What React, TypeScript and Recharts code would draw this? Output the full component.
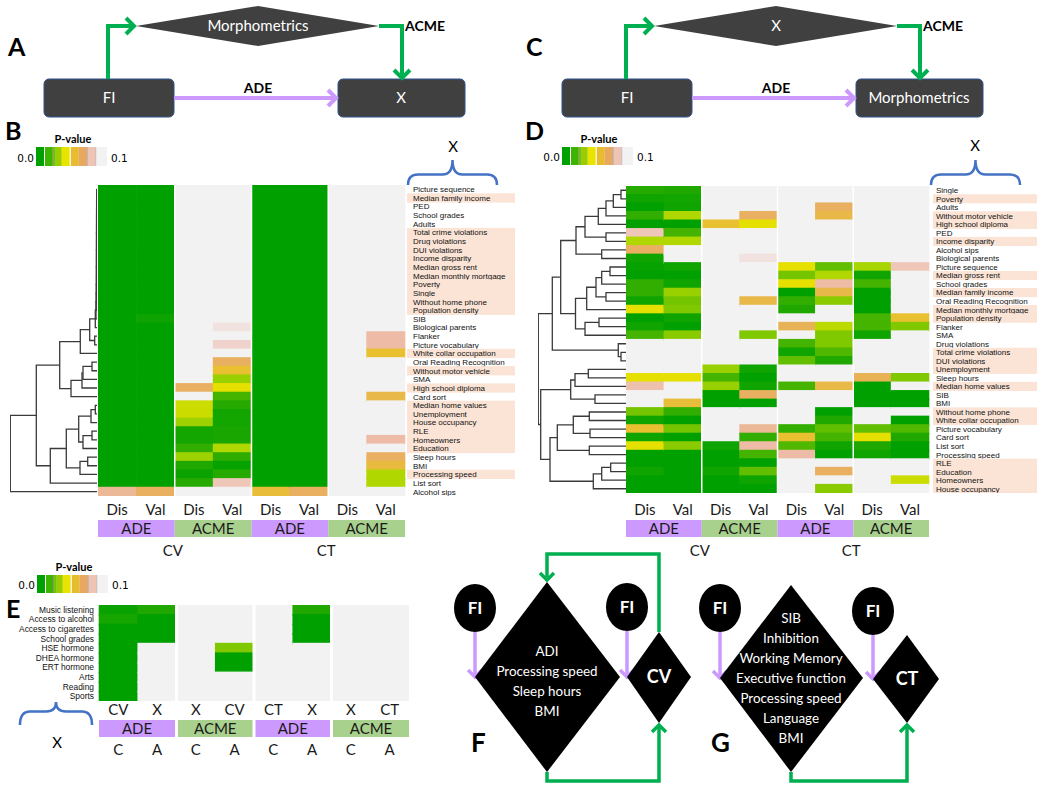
import React from 'react';
import { BarChart, Bar, Cell, XAxis, YAxis, ReferenceLine, ScatterChart, Scatter } from 'recharts';

const FONT = "Lato, 'Open Sans', sans-serif";
const LABEL_FONT = "'Liberation Sans', Arial, sans-serif";
const N = 1; // not significant (p >= 0.1)

// ---------------- Panel B ----------------
const B_ROWS = ['Picture sequence', 'Median family income', 'PED', 'School grades', 'Adults', 'Total crime violations', 'Drug violations', 'DUI violations', 'Income disparity', 'Median gross rent', 'Median monthly mortgage', 'Poverty', 'Single', 'Without home phone', 'Population density', 'SIB', 'Biological parents', 'Flanker', 'Picture vocabulary', 'White collar occupation', 'Oral Reading Recognition', 'Without motor vehicle', 'SMA', 'High school diploma', 'Card sort', 'Median home values', 'Unemployment', 'House occupancy', 'RLE', 'Homeowners', 'Education', 'Sleep hours', 'BMI', 'Processing speed', 'List sort', 'Alcohol sips'];
const B_HIGHLIGHT = ['Median family income', 'Total crime violations', 'Drug violations', 'DUI violations', 'Income disparity', 'Median gross rent', 'Median monthly mortgage', 'Poverty', 'Single', 'Without home phone', 'Population density', 'White collar occupation', 'Without motor vehicle', 'High school diploma', 'Median home values', 'Unemployment', 'House occupancy', 'RLE', 'Homeowners', 'Education', 'Processing speed'];
const B_ADE_CV_DIS = [0, 0, 0, 0, 0, 0, 0, 0, 0, 0, 0, 0, 0, 0, 0, 0, 0, 0, 0, 0, 0, 0, 0, 0, 0, 0, 0, 0, 0, 0, 0, 0, 0, 0, 0, 0.078];
const B_ADE_CV_VAL = [0, 0, 0, 0, 0, 0, 0, 0, 0, 0, 0, 0, 0, 0, 0, 0.004, 0, 0, 0, 0, 0, 0, 0, 0, 0, 0, 0, 0, 0, 0, 0, 0, 0, 0, 0, 0.07];
const B_ACME_CV_DIS = [N, N, N, N, N, N, N, N, N, N, N, N, N, N, N, N, N, N, N, N, N, N, N, 0.07, N, 0.045, 0.045, 0.036, 0.006, 0.006, 0.015, 0.036, 0.01, 0.003, 0.012, N];
const B_ACME_CV_VAL = [N, N, N, N, N, N, N, N, N, N, N, N, N, N, N, N, 0.095, N, 0.09, N, 0.07, 0.06, 0.035, 0.05, 0.02, 0.012, 0.006, 0.006, 0.008, 0.008, 0.04, 0.014, 0.002, 0.012, 0.085, N];
const B_ADE_CT_DIS = [0, 0, 0, 0, 0, 0, 0, 0, 0, 0, 0, 0, 0, 0, 0, 0, 0, 0, 0, 0, 0, 0, 0, 0, 0, 0, 0, 0, 0, 0, 0, 0, 0, 0, 0, 0.062];
const B_ADE_CT_VAL = [0, 0, 0, 0, 0, 0, 0, 0, 0, 0, 0, 0, 0, 0, 0, 0, 0, 0, 0, 0, 0, 0, 0, 0, 0, 0, 0, 0, 0, 0, 0, 0, 0, 0, 0, 0.07];
const B_ACME_CT_DIS = [N, N, N, N, N, N, N, N, N, N, N, N, N, N, N, N, N, N, N, N, N, N, N, N, N, N, N, N, N, N, N, N, N, N, N, N];
const B_ACME_CT_VAL = [N, N, N, N, N, N, N, N, N, N, N, N, N, N, N, N, N, 0.08, 0.08, 0.06, N, N, N, N, 0.065, N, N, N, N, 0.08, N, 0.07, 0.063, 0.04, 0.04, N];
// linkage: [nodeA, nodeB, height]; leaves 0..35, merges 36+
const B_TREE = [[0, 1, 0.3], [36, 2, 0.35], [37, 3, 0.4], [38, 4, 0.4], [39, 5, 0.45], [40, 6, 0.45], [41, 7, 0.5], [42, 8, 0.5], [43, 9, 0.55], [44, 10, 0.55], [45, 11, 0.6], [46, 12, 0.6], [47, 13, 0.7], [48, 14, 0.8], [49, 15, 1.0], [50, 16, 1.7], [17, 18, 2.3], [51, 52, 7.3], [53, 19, 16.7], [20, 21, 5], [55, 22, 14], [56, 23, 15], [57, 24, 26], [54, 58, 37.3], [25, 26, 1.7], [60, 27, 6], [28, 29, 5], [62, 30, 14], [61, 63, 18.3], [31, 32, 9.3], [65, 33, 17], [64, 66, 30.7], [67, 34, 46.7], [59, 68, 60.7], [69, 35, 86.7]];

// ---------------- Panel D ----------------
const D_ROWS = ['Single', 'Poverty', 'Adults', 'Without motor vehicle', 'High school diploma', 'PED', 'Income disparity', 'Alcohol sips', 'Biological parents', 'Picture sequence', 'Median gross rent', 'School grades', 'Median family income', 'Oral Reading Recognition', 'Median monthly mortgage', 'Population density', 'Flanker', 'SMA', 'Drug violations', 'Total crime violations', 'DUI violations', 'Unemployment', 'Sleep hours', 'Median home values', 'SIB', 'BMI', 'Without home phone', 'White collar occupation', 'Picture vocabulary', 'Card sort', 'List sort', 'Processing speed', 'RLE', 'Education', 'Homeowners', 'House occupancy'];
const D_HIGHLIGHT = ['Poverty', 'Without motor vehicle', 'High school diploma', 'Income disparity', 'Median gross rent', 'Median family income', 'Median monthly mortgage', 'Population density', 'Total crime violations', 'DUI violations', 'Unemployment', 'Median home values', 'Without home phone', 'White collar occupation', 'RLE', 'Education', 'Homeowners', 'House occupancy'];
const D_ADE_CV_DIS = [0.012, 0.005, 0, 0.015, 0, 0.085, 0.04, 0.07, 0.005, 0.002, 0, 0.015, 0.015, 0.005, 0.05, 0, 0.005, 0.02, N, N, N, N, 0.05, 0.082, N, N, 0.028, 0.005, 0.06, 0.005, 0.05, 0, 0, 0.005, 0, 0];
const D_ADE_CV_VAL = [0.01, 0.006, 0.005, 0.04, 0, 0.02, 0.04, N, N, 0.005, 0, 0.005, 0.035, 0.028, 0.03, 0.005, 0, 0.032, N, N, N, N, 0.05, N, N, 0.062, 0.015, 0, 0.028, 0, 0.032, 0, 0, 0, 0, 0];
const D_ACME_CV_DIS = [N, N, N, N, 0.06, N, N, N, N, N, N, N, N, N, N, N, N, N, N, N, N, 0.035, 0.02, 0.035, 0, 0, N, N, N, N, 0.005, 0, 0, 0.005, 0, 0];
const D_ACME_CV_VAL = [N, N, N, 0.07, 0.05, N, N, N, 0.095, N, N, N, N, 0.065, N, N, N, 0.03, N, N, N, 0.005, 0, 0.005, 0.07, 0, N, N, 0.078, 0.015, 0.08, 0.02, 0, 0.025, 0.005, 0];
const D_ADE_CT_DIS = [N, N, N, N, N, N, N, N, N, 0.05, 0.028, 0.05, 0, 0.015, 0.01, N, 0.068, N, 0.02, 0.005, 0.025, N, N, 0.02, N, N, N, N, 0.015, 0.06, 0.022, 0.08, N, N, N, N];
const D_ADE_CT_VAL = [N, N, 0.07, 0.065, N, N, N, N, N, 0.025, 0.04, 0.08, 0.065, 0.032, N, N, 0.042, 0.03, 0.03, 0.022, 0.01, N, N, 0.065, N, N, 0, 0.01, 0.025, 0.02, 0.005, 0, N, 0.07, N, 0.032];
const D_ACME_CT_DIS = [N, N, N, N, N, N, N, N, N, 0.038, 0.005, 0.02, 0, 0, 0, 0.02, 0.02, 0.005, N, N, N, N, 0.068, 0, 0, 0, N, N, 0.025, 0.05, 0.01, 0.005, N, N, N, N];
const D_ACME_CT_VAL = [N, N, N, N, N, N, N, N, N, 0.085, N, N, N, N, N, 0.06, 0.03, N, N, N, N, N, 0.03, N, 0, 0, N, 0, 0.022, 0.01, 0, 0, N, N, 0.045, N];
const D_TREE = [[0, 1, 5], [36, 2, 12.7], [37, 3, 20], [38, 4, 27.7], [5, 6, 20], [39, 40, 41], [7, 8, 24.3], [41, 42, 50], [9, 10, 16], [44, 11, 24.3], [12, 13, 20], [45, 46, 30], [47, 14, 39.3], [15, 16, 27], [49, 17, 41], [48, 50, 50.5], [43, 51, 65.3], [19, 20, 5], [18, 53, 7.7], [52, 54, 73.7], [21, 22, 37.7], [56, 23, 51], [24, 25, 31], [57, 58, 55.3], [26, 27, 36.7], [28, 29, 36], [60, 61, 52.7], [30, 31, 36.7], [62, 63, 68.7], [32, 33, 15.3], [65, 34, 24.3], [66, 35, 32.7], [64, 67, 76], [59, 68, 85.3], [55, 69, 87.7]];

// ---------------- Panel E ----------------
const E_ROWS = ['Music listening', 'Access to alcohol', 'Access to cigarettes', 'School grades', 'HSE hormone', 'DHEA hormone', 'ERT hormone', 'Arts', 'Reading', 'Sports'];
const E_ADE_C_CV = [0.003, 0.007, 0, 0, 0, 0, 0, 0, 0, 0];
const E_ADE_C_X = [0.01, 0, 0, 0, N, N, N, N, N, N];
const E_ACME_C_X = [N, N, N, N, N, N, N, N, N, N];
const E_ACME_C_CV = [N, N, N, N, 0.03, 0, 0, N, N, N];
const E_ADE_A_CT = [N, N, N, N, N, N, N, N, N, N];
const E_ADE_A_X = [0.01, 0, 0, 0, N, N, N, N, N, N];
const E_ACME_A_X = [N, N, N, N, N, N, N, N, N, N];
const E_ACME_A_CT = [N, N, N, N, N, N, N, N, N, N];

// tick labels
const BD_COL_LABELS = ['Dis', 'Val', 'Dis', 'Val', 'Dis', 'Val', 'Dis', 'Val'];
const GROUP_LABELS = ['ADE', 'ACME', 'ADE', 'ACME'];
const BD_SUPER = ['CV', 'CT'];
const E_COL_LABELS = ['CV', 'X', 'X', 'CV', 'CT', 'X', 'X', 'CT'];
const E_SUB_LABELS = ['C', 'A', 'C', 'A', 'C', 'A', 'C', 'A'];
const F_TEXT = ['ADI', 'Processing speed', 'Sleep hours', 'BMI'];
const G_TEXT = ['SIB', 'Inhibition', 'Working Memory', 'Executive function', 'Processing speed', 'Language', 'BMI'];

const P_STOPS: [number, string][] = [[0, '#00A000'], [0.01, '#20A800'], [0.02, '#44B400'], [0.03, '#80C800'], [0.04, '#B0D800'], [0.05, '#E6E000'], [0.06, '#E8C030'], [0.07, '#E8B060'], [0.08, '#EDBBA6'], [0.09, '#F0D2CC'], [0.1, '#F2F2F2']];
const LEGEND_SEGS: [string, number][] = [['#00A000', 8], ['#FFFFFF', 1], ['#3CB400', 7], ['#777777', 0.8], ['#70C400', 3], ['#9ACC00', 6], ['#E8E400', 8], ['#FFFFFF', 1], ['#E8BC30', 8], ['#E8A860', 8], ['#777777', 0.8], ['#F0C4B4', 8], ['#999999', 0.8], ['#F2F2F2', 10.6]];

const GREEN = '#00B050';
const PURPLE = '#CC99FF';
const DARK = '#404040';
const ADE_FILL = '#CC99FF';
const ACME_FILL = '#A9D18E';

function hex(c: string) { return [1, 3, 5].map(i => parseInt(c.slice(i, i + 2), 16)); }
function pColor(p: number) {
  if (p >= 0.1) return '#F2F2F2';
  for (let i = 1; i < P_STOPS.length; i++) {
    const [p1, c1] = P_STOPS[i];
    const [p0, c0] = P_STOPS[i - 1];
    if (p <= p1) {
      const t = (p - p0) / (p1 - p0);
      const a = hex(c0), b = hex(c1);
      const m = a.map((v, k) => Math.round(v + (b[k] - v) * t));
      return `rgb(${m[0]},${m[1]},${m[2]})`;
    }
  }
  return '#F2F2F2';
}

// cell shape: slightly overdrawn so that adjacent cells meet without seams
const CellShape = (p: any) => (
  <rect x={p.x - 0.3} y={p.y - 0.6} width={p.width + 0.6} height={p.height + 1.2} fill={p.fill} />
);

function Heatmap(props: any) {
  const { rows, cols, highlight, left, top, plotW, height, labelW, side, tickMargin, fontSize, sepW, hlOff, hlW } = props;
  const data = rows.map((name: string) => {
    const o: any = { name };
    cols.forEach((_: any, c: number) => { o['c' + c] = 1; });
    return o;
  });
  const rowH = height / rows.length;
  const renderTick = (tp: any) => {
    const { x, y, payload } = tp;
    const hl = highlight && highlight.includes(payload.value);
    return (
      <g>
        {hl && <rect x={x - hlOff} y={y - rowH / 2 - 0.3} width={hlW} height={rowH + 0.6} fill="#FBE4D5" />}
        <text x={x} y={y} dy={fontSize * 0.36} fontSize={fontSize} fontFamily={LABEL_FONT} fill="#111" textAnchor={side === 'right' ? 'start' : 'end'}>{payload.value}</text>
      </g>
    );
  };
  const chartLeft = side === 'right' ? left : left - labelW;
  return (
    <div style={{ position: 'absolute', left: chartLeft, top }}>
      <BarChart width={plotW + labelW} height={height} data={data} layout="vertical" margin={{ top: 0, right: 0, bottom: 0, left: 0 }} barCategoryGap={0} barGap={0}>
        <XAxis type="number" domain={[0, cols.length]} hide />
        <YAxis type="category" dataKey="name" orientation={side} width={labelW} tickLine={false} axisLine={false} interval={0} tickSize={0} tickMargin={tickMargin} tick={renderTick} />
        {cols.map((col: number[], ci: number) => (
          <Bar key={ci} dataKey={'c' + ci} stackId="s" shape={CellShape} isAnimationActive={false}>
            {col.map((p, ri) => <Cell key={ri} fill={pColor(p)} />)}
          </Bar>
        ))}
        {[2, 4, 6].map(v => <ReferenceLine key={v} x={v} stroke="#FFFFFF" strokeWidth={sepW} />)}
      </BarChart>
    </div>
  );
}

function buildLinks(tree: number[][], n: number) {
  const pos: { y: number; h: number }[] = [];
  for (let i = 0; i < n; i++) pos[i] = { y: i + 0.5, h: 0 };
  const links: { x: number; y: number }[][] = [];
  tree.forEach(([a, b, h], k) => {
    const A = pos[a], B = pos[b];
    links.push([{ x: A.h, y: A.y }, { x: h, y: A.y }, { x: h, y: B.y }, { x: B.h, y: B.y }]);
    pos[n + k] = { y: (A.y + B.y) / 2, h };
  });
  return links;
}

const NoDot = () => <g />;

function Dendrogram(props: any) {
  const { tree, n, left, top, width, height, hMax } = props;
  const links = buildLinks(tree, n);
  return (
    <div style={{ position: 'absolute', left, top }}>
      <ScatterChart width={width} height={height} margin={{ top: 0, right: 0, bottom: 0, left: 0 }}>
        <XAxis type="number" dataKey="x" domain={[0, hMax]} reversed hide allowDataOverflow />
        <YAxis type="number" dataKey="y" domain={[0, n]} reversed hide allowDataOverflow />
        {links.map((pts, i) => (
          <Scatter key={i} data={pts} fill="#3a3a3a" line={{ stroke: '#3a3a3a', strokeWidth: 1.3 }} shape={NoDot} legendType="none" isAnimationActive={false} />
        ))}
      </ScatterChart>
    </div>
  );
}

function PLegend({ x, y, h }: any) {
  let cx = x;
  const segs = LEGEND_SEGS.map(([c, w], i) => {
    const r = <rect key={i} x={cx} y={y} width={w} height={h} fill={c} />;
    cx += w;
    return r;
  });
  return (
    <g>
      <text x={x + 37} y={y - 4} fontSize={11} fontWeight={700} fontFamily={FONT} textAnchor="middle">P-value</text>
      <text x={x - 2} y={y + h - 4} fontSize={10.5} fontFamily="'DejaVu Sans', sans-serif" textAnchor="end">0.0</text>
      {segs}
      <text x={cx + 4} y={y + h - 4} fontSize={10.5} fontFamily="'DejaVu Sans', sans-serif">0.1</text>
    </g>
  );
}

function BraceUp({ x1, x2, yb, yt }: any) {
  const cx = (x1 + x2) / 2, ym = (yb + yt) / 2 + 2, r = 10;
  const d = `M${x1},${yb} Q${x1},${ym} ${x1 + r},${ym} L${cx - r},${ym} Q${cx},${ym} ${cx},${yt} Q${cx},${ym} ${cx + r},${ym} L${x2 - r},${ym} Q${x2},${ym} ${x2},${yb}`;
  return <path d={d} fill="none" stroke="#4472C4" strokeWidth={2.5} />;
}

function Chevron({ x, y, dir, color, s = 8, w = 4 }: any) {
  let pts = '';
  if (dir === 'right') pts = `${x - s},${y - s} ${x},${y} ${x - s},${y + s}`;
  if (dir === 'down') pts = `${x - s},${y - s} ${x},${y} ${x + s},${y - s}`;
  if (dir === 'up') pts = `${x - s},${y + s} ${x},${y} ${x + s},${y + s}`;
  return <polyline points={pts} fill="none" stroke={color} strokeWidth={w} />;
}

function Mediation({ dx, letter, diamondText, targetText }: any) {
  return (
    <g fontFamily={FONT}>
      <text x={8 + dx} y={56} fontSize={25} fontWeight={700}>{letter}</text>
      <polygon points={`${136 + dx},26 ${258 + dx},6 ${379 + dx},26 ${258 + dx},46`} fill={DARK} />
      <text x={258 + dx} y={31} fill="#fff" fontSize={15} textAnchor="middle">{diamondText}</text>
      <rect x={44 + dx} y={79} width={130} height={38} rx={5} fill={DARK} stroke="#2F528F" />
      <text x={109 + dx} y={103} fill="#fff" fontSize={15} textAnchor="middle">FI</text>
      <rect x={338 + dx} y={79} width={127} height={38} rx={5} fill={DARK} stroke="#2F528F" />
      <text x={401 + dx} y={103} fill="#fff" fontSize={15} textAnchor="middle">{targetText}</text>
      <path d={`M${108 + dx},79 V26 H${132 + dx}`} stroke={GREEN} strokeWidth={4} fill="none" />
      <Chevron x={134 + dx} y={26} dir="right" color={GREEN} />
      <path d={`M${379 + dx},26 H${402 + dx} V76`} stroke={GREEN} strokeWidth={4} fill="none" />
      <Chevron x={402 + dx} y={78} dir="down" color={GREEN} />
      <text x={425 + dx} y={31} fontSize={14} fontWeight={700} textAnchor="middle">ACME</text>
      <path d={`M${174 + dx},98 H${334 + dx}`} stroke={PURPLE} strokeWidth={4} fill="none" />
      <Chevron x={336 + dx} y={98} dir="right" color={PURPLE} />
      <text x={258 + dx} y={93} fontSize={14} fontWeight={700} textAnchor="middle">ADE</text>
    </g>
  );
}

function Footer({ left, colW, colLabels, supers, superY, showSuper, yCol, yBar, ySub, subLabels, gap }: any) {
  const groupW = colW * 2;
  return (
    <g fontFamily={FONT} fontSize={15} fill="#1a1a1a">
      {colLabels.map((t: string, i: number) => (
        <text key={'c' + i} x={left + colW * (i + 0.5)} y={yCol} textAnchor="middle">{t}</text>
      ))}
      {GROUP_LABELS.map((t, g) => {
        const x0 = left + g * groupW + (g > 0 ? gap : 0);
        const x1 = left + (g + 1) * groupW - (g < 3 ? gap : 0);
        return (
          <g key={'g' + g}>
            <rect x={x0} y={yBar} width={x1 - x0} height={17} fill={g % 2 === 0 ? ADE_FILL : ACME_FILL} />
            <text x={(x0 + x1) / 2} y={yBar + 14} textAnchor="middle">{t}</text>
          </g>
        );
      })}
      {showSuper && supers.map((t: string, i: number) => (
        <text key={'s' + i} x={left + colW * (2 + i * 4) - 2} y={superY} textAnchor="middle">{t}</text>
      ))}
      {subLabels && subLabels.map((t: string, i: number) => (
        <text key={'a' + i} x={left + colW * (i + 0.5)} y={ySub} textAnchor="middle">{t}</text>
      ))}
    </g>
  );
}

function FlowPanel({ letter, letterX, bigTop, bigLeft, bigRight, bigBottom, bigCx, lines, lineY0, fi1, fi2, small, smallText }: any) {
  return (
    <g fontFamily={FONT}>
      <ellipse cx={fi1[0]} cy={fi1[1]} rx={21} ry={24} fill="#000" />
      <text x={fi1[0]} y={fi1[1] + 6} fill="#fff" fontSize={17} fontWeight={700} textAnchor="middle">FI</text>
      <path d={`M${fi1[0]},${fi1[1] + 24} V${bigLeft[1] - 2}`} stroke={PURPLE} strokeWidth={3.5} fill="none" />
      <Chevron x={fi1[0]} y={bigLeft[1]} dir="down" color={PURPLE} s={7} w={3.5} />
      <polygon points={`${bigCx},${bigTop} ${bigRight[0]},${bigRight[1]} ${bigCx},${bigBottom} ${bigLeft[0]},${bigLeft[1]}`} fill="#000" />
      {lines.map((t: string, i: number) => (
        <text key={i} x={bigCx} y={lineY0 + i * 20} fill="#fff" fontSize={13.4} textAnchor="middle">{t}</text>
      ))}
      <ellipse cx={fi2[0]} cy={fi2[1]} rx={21} ry={24} fill="#000" />
      <text x={fi2[0]} y={fi2[1] + 6} fill="#fff" fontSize={17} fontWeight={700} textAnchor="middle">FI</text>
      <path d={`M${fi2[0]},${fi2[1] + 24} V${small.left - 2}`} stroke={PURPLE} strokeWidth={3.5} fill="none" />
      <Chevron x={fi2[0]} y={small.midY} dir="down" color={PURPLE} s={7} w={3.5} />
      <polygon points={`${small.cx},${small.top} ${small.right},${small.midY} ${small.cx},${small.bottom} ${fi2[0]},${small.midY}`} fill="#000" />
      <text x={small.cx} y={small.midY + 6} fill="#fff" fontSize={18} fontWeight={700} textAnchor="middle">{smallText}</text>
      <path d={`M${bigCx},${bigBottom} V781 H${small.cx} V${small.bottom + 3}`} stroke={GREEN} strokeWidth={3.5} fill="none" />
      <Chevron x={small.cx} y={small.bottom + 2} dir="up" color={GREEN} s={7} w={3.5} />
      <text x={letterX} y={752} fontSize={26} fontWeight={700}>{letter}</text>
    </g>
  );
}

export default function App() {
  const bCols = [B_ADE_CV_DIS, B_ADE_CV_VAL, B_ACME_CV_DIS, B_ACME_CV_VAL, B_ADE_CT_DIS, B_ADE_CT_VAL, B_ACME_CT_DIS, B_ACME_CT_VAL];
  const dCols = [D_ADE_CV_DIS, D_ADE_CV_VAL, D_ACME_CV_DIS, D_ACME_CV_VAL, D_ADE_CT_DIS, D_ADE_CT_VAL, D_ACME_CT_DIS, D_ACME_CT_VAL];
  const eCols = [E_ADE_C_CV, E_ADE_C_X, E_ACME_C_X, E_ACME_C_CV, E_ADE_A_CT, E_ADE_A_X, E_ACME_A_X, E_ACME_A_CT];
  return (
    <div style={{ position: 'absolute', left: 0, top: 0, width: 1050, height: 788, background: '#fff', overflow: 'hidden' }}>
      <svg width={1050} height={788} style={{ position: 'absolute', left: 0, top: 0 }}>
        <Mediation dx={0} letter="A" diamondText="Morphometrics" targetText="X" />
        <Mediation dx={518} letter="C" diamondText="X" targetText="Morphometrics" />
        <g fontFamily={FONT}>
          <text x={5} y={140} fontSize={25} fontWeight={700}>B</text>
          <text x={525} y={140} fontSize={25} fontWeight={700}>D</text>
          <text x={6} y={618} fontSize={25} fontWeight={700}>E</text>
          <text x={453} y={152} fontSize={15} textAnchor="middle">X</text>
          <text x={975} y={151} fontSize={15} textAnchor="middle">X</text>
          <text x={57} y={748} fontSize={15} textAnchor="middle">X</text>
        </g>
        <PLegend x={36} y={147} h={19} />
        <PLegend x={562} y={147} h={18} />
        <PLegend x={37} y={575} h={18} />
        <BraceUp x1={408} x2={497} yb={185} yt={160} />
        <BraceUp x1={931} x2={1020} yb={185} yt={160} />
        <g transform="translate(0,1427) scale(1,-1)">
          <BraceUp x1={20} x2={92} yb={702} yt={725} />
        </g>
        <Footer left={98} colW={307 / 8} colLabels={BD_COL_LABELS} supers={BD_SUPER} showSuper superY={556} yCol={515} yBar={520} gap={0} />
        <Footer left={626} colW={303 / 8} colLabels={BD_COL_LABELS} supers={BD_SUPER} showSuper superY={556} yCol={515} yBar={520} gap={0} />
        <Footer left={99} colW={310 / 8} colLabels={E_COL_LABELS} supers={[]} showSuper={false} yCol={715} yBar={720} ySub={755} subLabels={E_SUB_LABELS} gap={1.5} />
        {/* F */}
        <path d="M659,632 V554 H547 V577" stroke={GREEN} strokeWidth={3.5} fill="none" />
        <Chevron x={547} y={580} dir="down" color={GREEN} s={7} w={3.5} />
        <FlowPanel letter="F" letterX={471} bigTop={582} bigLeft={[475, 677]} bigRight={[620, 677]} bigBottom={772} bigCx={547}
          lines={F_TEXT} lineY0={656} fi1={[475, 608]} fi2={[627, 607]}
          small={{ cx: 659, top: 632, bottom: 723, right: 691, midY: 677, left: 677 }} smallText="CV" />
        <FlowPanel letter="G" letterX={711} bigTop={585} bigLeft={[720, 678]} bigRight={[863, 678]} bigBottom={772} bigCx={791}
          lines={G_TEXT} lineY0={623} fi1={[720, 608]} fi2={[873, 611]}
          small={{ cx: 907, top: 635, bottom: 723, right: 939, midY: 679, left: 679 }} smallText="CT" />
      </svg>
      <Dendrogram tree={B_TREE} n={36} left={10} top={185} width={87} height={311} hMax={87} />
      <Heatmap rows={B_ROWS} cols={bCols} highlight={B_HIGHLIGHT} left={98} top={185} plotW={307} height={311} labelW={122} side="right" tickMargin={8} fontSize={8} sepW={1.5} hlOff={6} hlW={108} />
      <Dendrogram tree={D_TREE} n={36} left={538} top={186} width={88} height={307} hMax={88} />
      <Heatmap rows={D_ROWS} cols={dCols} highlight={D_HIGHLIGHT} left={626} top={186} plotW={303} height={307} labelW={121} side="right" tickMargin={7} fontSize={8} sepW={1.5} hlOff={3} hlW={104} />
      <Heatmap rows={E_ROWS} cols={eCols} highlight={null} left={99} top={605} plotW={310} height={96} labelW={99} side="left" tickMargin={5} fontSize={8.4} sepW={3} hlOff={0} hlW={0} />
    </div>
  );
}
